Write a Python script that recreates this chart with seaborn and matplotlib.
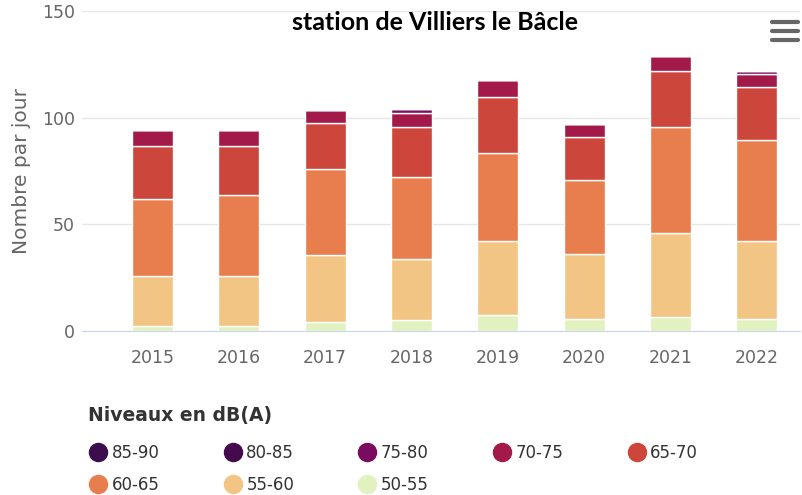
import pandas as pd
import seaborn as sns
from matplotlib import pyplot as plt
from matplotlib.lines import Line2D

years = [2015, 2016, 2017, 2018, 2019, 2020, 2021, 2022]
levels = ['85-90', '80-85', '75-80', '70-75', '65-70', '60-65', '55-60', '50-55']

# daily counts per noise level
l85_90 = [0, 0, 0, 0, 0, 0, 0, 0]
l80_85 = [0, 0, 0, 0, 0, 0, 0, 0]
l75_80 = [0, 0, 0, 1.5, 0, 0, 0, 1.4]
l70_75 = [7.3, 7.3, 6.2, 6.9, 7.9, 5.8, 6.9, 6.0]
l65_70 = [25.0, 23.1, 21.6, 23.2, 26.5, 20.5, 26.5, 25.0]
l60_65 = [36.1, 38.0, 40.3, 38.7, 41.1, 34.3, 49.7, 47.3]
l55_60 = [23.3, 23.3, 31.1, 28.4, 34.7, 30.4, 39.1, 36.3]
l50_55 = [2.5, 2.5, 4.4, 5.2, 7.5, 5.9, 6.7, 5.9]

colors = {'85-90': '#3b0d4c', '80-85': '#45094d', '75-80': '#7b0b5f', '70-75': '#a3194a',
          '65-70': '#cc463b', '60-65': '#e87e4e', '55-60': '#f3c584', '50-55': '#e1f1c0'}

series = [l85_90, l80_85, l75_80, l70_75, l65_70, l60_65, l55_60, l50_55]
rows = []
for lev, vals in zip(levels, series):
    for y, v in zip(years, vals):
        rows.append({'year': y, 'level': lev, 'value': v})
df = pd.DataFrame(rows)

sns.set_style('white')
plt.rcParams['font.family'] = ['DejaVu Sans']

fig = plt.figure(figsize=(8.02, 4.95), dpi=100)
ax = fig.add_axes([0.102, 0.331, 0.8955, 0.647])

sns.histplot(data=df, x='year', weights='value', hue='level', hue_order=levels,
             multiple='stack', discrete=True, shrink=0.475, palette=colors,
             alpha=1, edgecolor='white', linewidth=1, legend=False, ax=ax)

ax.set_xlim(2015 - 0.82, 2022.5)
ax.set_ylim(0, 150)
ax.set_yticks([0, 50, 100, 150])
ax.set_xticks(years)
ax.set_xticklabels([str(y) for y in years])
ax.yaxis.grid(True, color='#e6e6e6', linewidth=1)
ax.set_axisbelow(True)
for s in ['top', 'right', 'left']:
    ax.spines[s].set_visible(False)
ax.spines['bottom'].set_color('#ccd6eb')
ax.tick_params(axis='both', length=0, labelsize=12.5, labelcolor='#666666')
ax.tick_params(axis='x', pad=13)
ax.tick_params(axis='y', pad=5)
ax.set_xlabel('')
ax.set_ylabel('Nombre par jour', fontsize=14.5, color='#666666', labelpad=8)

fig.text(0.542, 0.955, 'station de Villiers le Bâcle', ha='center', va='center',
         fontsize=18, fontweight='bold', family='Lato', color='black')

# menu icon
for yy in [22, 31, 40]:
    fig.add_artist(Line2D([772 / 802, 798 / 802], [1 - yy / 495, 1 - yy / 495],
                          color='#666666', linewidth=3, solid_capstyle='round'))

handles = [Line2D([0], [0], marker='o', linestyle='', markersize=13,
                  markerfacecolor=colors[l], markeredgecolor=colors[l], label=l) for l in levels]
order = [0, 5, 1, 6, 2, 7, 3, 4]
leg = fig.legend([handles[i] for i in order], [levels[i] for i in order], ncol=5,
                 loc='upper left', bbox_to_anchor=(0.104, 0.116), frameon=False,
                 fontsize=12, labelcolor='#333333', handletextpad=0.3, columnspacing=3.9,
                 labelspacing=0.8, handlelength=1.0, borderaxespad=0)
fig.text(0.11, 1 - 415 / 495, 'Niveaux en dB(A)', ha='left', va='center',
         fontsize=13.5, fontweight='bold', color='#333333')

fig.savefig('out.png', dpi=100)
